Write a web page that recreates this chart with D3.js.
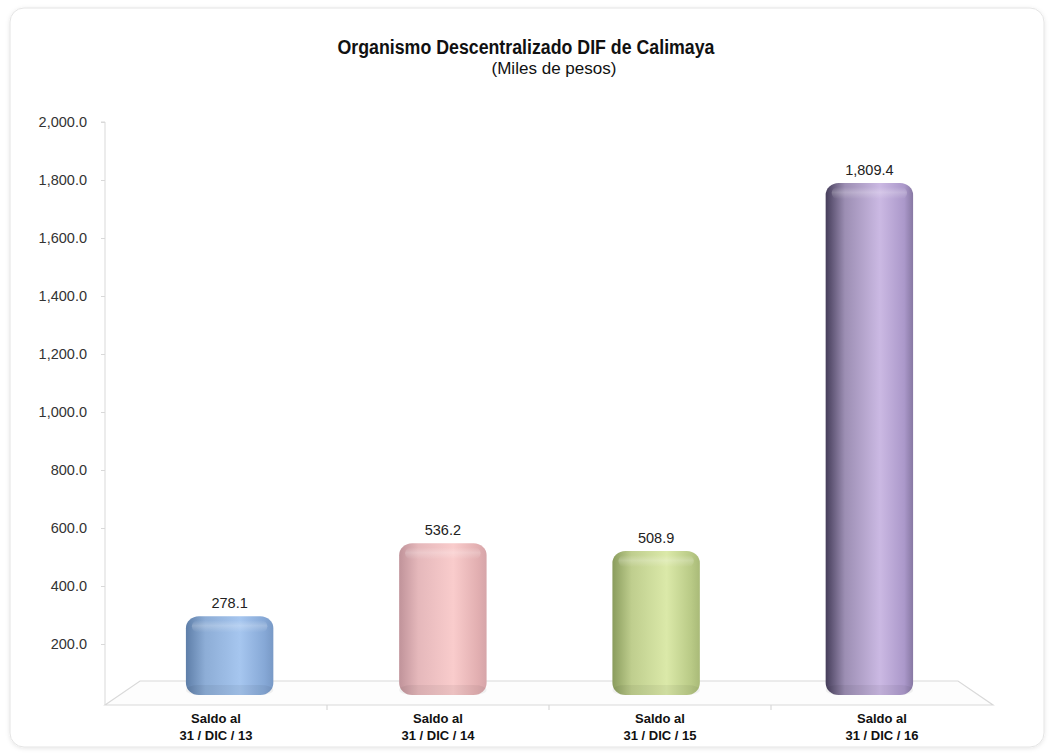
<!DOCTYPE html>
<html><head><meta charset="utf-8">
<script src="https://cdn.jsdelivr.net/npm/d3@7/dist/d3.min.js"></script>
<style>body{margin:0;background:#fff;} svg{display:block;font-family:"Liberation Sans",Arial,sans-serif;}</style>
</head><body><svg id="c" width="1052" height="755"></svg>
<script>
const categoriesLine1 = ["Saldo al","Saldo al","Saldo al","Saldo al"];
const categoriesLine2 = ["31 / DIC / 13","31 / DIC / 14","31 / DIC / 15","31 / DIC / 16"];
const values = [278.1, 536.2, 508.9, 1809.4];
const tickValues = [200,400,600,800,1000,1200,1400,1600,1800,2000];
const barColors = [
  {dark:"#5e7ea8", mid:"#a6c6ef", edge:"#86a8d6"},
  {dark:"#c0939a", mid:"#f9cccc", edge:"#e2afb1"},
  {dark:"#8a9c5d", mid:"#dbe9a9", edge:"#b9ca86"},
  {dark:"#453d5a", mid:"#cbb9e3", edge:"#ab98ca"}
];

const svg = d3.select("#c");
const defs = svg.append("defs");

// card
const flt = defs.append("filter").attr("id","sh").attr("x","-5%").attr("y","-5%").attr("width","110%").attr("height","110%");
flt.append("feDropShadow").attr("dx",0).attr("dy",1).attr("stdDeviation",2).attr("flood-color","#000").attr("flood-opacity",0.10);
svg.append("rect").attr("x",10).attr("y",8).attr("width",1034).attr("height",739).attr("rx",14)
  .attr("fill","#fff").attr("stroke","#e4e4e4").attr("filter","url(#sh)");

// title
svg.append("text").attr("x",526).attr("y",54).attr("text-anchor","middle")
  .attr("font-size",20).attr("font-weight","bold").attr("fill","#111")
  .attr("textLength",377).attr("lengthAdjust","spacingAndGlyphs")
  .text("Organismo Descentralizado DIF de Calimaya");
svg.append("text").attr("x",554).attr("y",74).attr("text-anchor","middle")
  .attr("font-size",16.5).attr("fill","#111")
  .attr("textLength",125).attr("lengthAdjust","spacingAndGlyphs")
  .text("(Miles de pesos)");

// scales
const yAxisScale = d3.scaleLinear().domain([0,2000]).range([702,122]);
const yBar = d3.scaleLinear().domain([0,2000]).range([695,129]);
const xBar = d3.scaleBand().domain(d3.range(values.length)).range([123,976]).paddingInner(0.59).paddingOuter(0.295);
const xCat = d3.scaleBand().domain(d3.range(values.length)).range([105,993]);

// floor
const floorG = svg.append("g").attr("stroke","#d9d9d9").attr("fill","none").attr("stroke-width",1.2);
floorG.append("path").attr("d","M105,705 L140,681 L958,681 L993,705 Z").attr("fill","#fdfdfd");
xCat.domain().slice(1).forEach(i=>{
  floorG.append("line").attr("x1",xCat(i)).attr("x2",xCat(i)).attr("y1",705).attr("y2",710);
});

// y axis
const ax = svg.append("g").attr("transform","translate(105,0)")
  .call(d3.axisLeft(yAxisScale).tickValues(tickValues).tickFormat(d3.format(",.1f")).tickSize(4).tickPadding(14));
ax.select(".domain").attr("stroke","#d9d9d9").attr("d","M-4,122H0V705");
ax.selectAll(".tick line").attr("stroke","#d9d9d9");
ax.selectAll(".tick text").attr("font-size",14.5).attr("fill","#333").attr("font-family","Liberation Sans, Arial, sans-serif");

// gradients
barColors.forEach((c,i)=>{
  const g = defs.append("linearGradient").attr("id","g"+i).attr("x1","0").attr("x2","1").attr("y1","0").attr("y2","0");
  g.append("stop").attr("offset","0%").attr("stop-color",c.dark);
  g.append("stop").attr("offset","22%").attr("stop-color",d3.interpolateRgb(c.dark,c.mid)(0.65));
  g.append("stop").attr("offset","62%").attr("stop-color",c.mid);
  g.append("stop").attr("offset","90%").attr("stop-color",c.edge);
  g.append("stop").attr("offset","100%").attr("stop-color",d3.interpolateRgb(c.edge,c.dark)(0.35));
  const v = defs.append("linearGradient").attr("id","v"+i).attr("x1","0").attr("x2","0").attr("y1","0").attr("y2","1");
  v.append("stop").attr("offset","0%").attr("stop-color","#fff").attr("stop-opacity",0.0);
  v.append("stop").attr("offset","45%").attr("stop-color","#fff").attr("stop-opacity",0.22);
  v.append("stop").attr("offset","100%").attr("stop-color","#fff").attr("stop-opacity",0.0);
});

// bars
const bars = svg.append("g").selectAll("g").data(values).join("g");
bars.append("rect")
  .attr("x",(d,i)=>xBar(i)).attr("width",xBar.bandwidth())
  .attr("y",d=>yBar(d)).attr("height",d=>yBar(0)-yBar(d))
  .attr("rx",13).attr("ry",12)
  .attr("fill",(d,i)=>`url(#g${i})`);
// bottom shade
bars.append("rect")
  .attr("x",(d,i)=>xBar(i)).attr("width",xBar.bandwidth())
  .attr("y",d=>yBar(0)-10).attr("height",10)
  .attr("rx",13).attr("ry",10).attr("fill","#000").attr("opacity",0.05);
// top highlight band
bars.append("rect")
  .attr("x",(d,i)=>xBar(i)+6).attr("width",xBar.bandwidth()-12)
  .attr("y",d=>yBar(d)+4).attr("height",12)
  .attr("rx",6).attr("fill",(d,i)=>`url(#v${i})`);

// value labels
svg.append("g").selectAll("text").data(values).join("text")
  .attr("x",(d,i)=>xBar(i)+xBar.bandwidth()/2).attr("y",d=>yBar(d)-8)
  .attr("text-anchor","middle").attr("font-size",14.5).attr("fill","#222")
  .text(d=>d3.format(",.1f")(d));

// category labels
const cat = svg.append("g").selectAll("text").data(values).join("text")
  .attr("text-anchor","middle").attr("font-size",13).attr("font-weight","bold").attr("fill","#111");
cat.append("tspan").attr("x",(d,i)=>xCat(i)+xCat.bandwidth()/2).attr("y",723).text((d,i)=>categoriesLine1[i]);
cat.append("tspan").attr("x",(d,i)=>xCat(i)+xCat.bandwidth()/2).attr("y",740).text((d,i)=>categoriesLine2[i]);
</script></body></html>
